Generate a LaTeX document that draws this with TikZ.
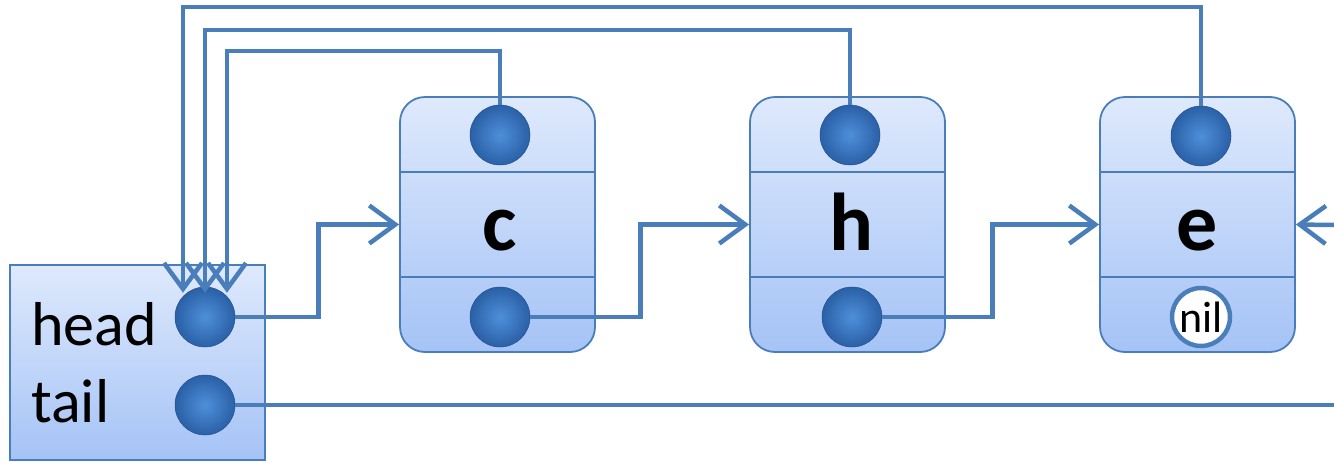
\documentclass[tikz,border=0pt]{standalone}
\usepackage{fontspec}
\setmainfont{Carlito}
\usetikzlibrary{arrows.meta}
\definecolor{ln}{RGB}{74,126,187}
\definecolor{boxtop}{RGB}{222,233,252}
\definecolor{boxbot}{RGB}{165,195,246}
\definecolor{dotin}{RGB}{78,143,218}
\definecolor{dotout}{RGB}{42,96,166}
\begin{document}
\begin{tikzpicture}[x=1pt,y=-1pt,
  lnk/.style={draw=ln,line width=4.5pt},
  arr/.style={lnk,-{Straight Barb[length=26pt,width=38pt]}},
  rec/.style={draw=ln,line width=1.8pt,top color=boxtop,bottom color=boxbot,minimum width=195pt,minimum height=255pt,rounded corners=25pt,inner sep=0pt},
  hbox/.style={draw=ln,line width=1.8pt,top color=boxtop,bottom color=boxbot,minimum width=255pt,minimum height=195pt,inner sep=0pt},
  dot/.style={circle,minimum size=60pt,inner sep=0pt,inner color=dotin,outer color=dotout,draw=dotout!85!black,line width=0.5pt},
  nilc/.style={circle,minimum size=58pt,inner sep=0pt,fill=white,draw=ln,line width=4.5pt,font=\fontsize{44}{46}\selectfont},
  lbl/.style={anchor=base west,inner sep=0pt,font=\fontsize{62}{64}\selectfont},
  big/.style={anchor=base,inner sep=0pt,font=\bfseries\fontsize{82}{84}\selectfont},
  sep/.style={draw=ln,line width=1.8pt}]
\useasboundingbox (0,0) rectangle (1334,461);
% boxes
\node[hbox] (hb) at (137.5,362.5) {};
\node[rec] (c) at (497.5,224.5) {};
\node[rec] (h) at (847.5,224.5) {};
\node[rec] (e) at (1197.5,224.5) {};
\foreach \n in {c,h,e}{
  \draw[sep] (\n.west |- 0,172) -- (\n.east |- 0,172);
  \draw[sep] (\n.west |- 0,277) -- (\n.east |- 0,277);
}
% labels
\node[lbl] (headlbl) at (31,345) {head};
\node[lbl] (taillbl) at (31,422) {tail};
\node[big] (cl) at (500,250) {c};
\node[big] (hl) at (851,250) {h};
\node[big] (el) at (1197,250) {e};
% dots
\node[dot] (hd) at (205,317) {};
\node[dot] (td) at (205,405) {};
\node[dot] (ct) at (500,135) {};
\node[dot] (cb) at (500,317) {};
\node[dot] (ht) at (850,135) {};
\node[dot] (hbt) at (852,317) {};
\node[dot] (et) at (1201,136) {};
\node[nilc] (nil) at (1201,317) {nil};
% free ends
\coordinate (tailend) at (1334,405);
\coordinate (eback) at (1334,225);
% connectors
\draw[arr] (hd.east) -- ++(83,0) |- (c.west);
\draw[arr] (cb.east) -- ++(110,0) |- (h.west);
\draw[arr] (hbt.east) -- ++(110,0) |- (e.west);
\draw[lnk] (td.east) -- (tailend);
\draw[arr] (eback) -- (e.east);
\draw[arr] (ct.north) -- ++(0,-54) -| ([xshift=22pt,yshift=-6pt]hd.north);
\draw[arr] (ht.north) -- ++(0,-75) -| ([yshift=-6pt]hd.north);
\draw[arr] (et.north) -- ++(0,-99) -| ([xshift=-22pt,yshift=-6pt]hd.north);
\end{tikzpicture}
\end{document}
